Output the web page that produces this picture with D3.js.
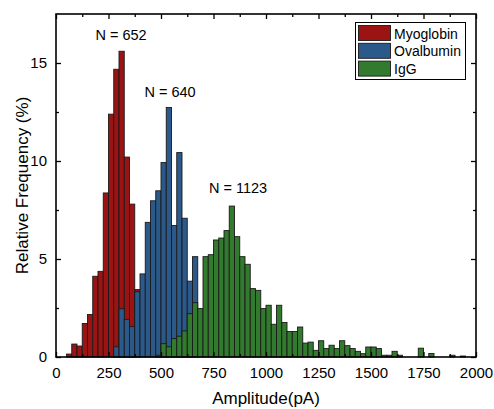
<!DOCTYPE html>
<html>
<head>
<meta charset="utf-8">
<script src="https://cdn.jsdelivr.net/npm/d3@7"></script>
<style>
  body { margin: 0; background: #fff; }
  svg { display: block; font-family: "Liberation Sans", Arial, sans-serif; }
</style>
</head>
<body>
<script>
// histogram bins are 25 pA wide, values are relative frequency (%)
const binWidth = 25
const seriesNames = ["Myoglobin", "Ovalbumin", "IgG"]
const seriesLabels = ["N = 652", "N = 640", "N = 1123"]

const myoglobinStart = 50
const myoglobin = [0.15, 0.66, 0.56, 1.71, 2.17, 4.12, 4.37, 8.37, 12.39, 14.68, 15.6, 10.2, 7.8, 3.44]

const ovalbuminStart = 275
const ovalbumin = [0.52, 2.46, 1.92, 1.55, 3.33, 4.24, 6.87, 7.97, 8.48, 9.92, 12.73, 6.71, 10.43, 7.08, 3.87, 5.12]

const iggStart = 475
const igg = [0.09, 0.68, 0.52, 0.94, 1.06, 1.33, 2.21, 2.77, 2.47, 5.12,
    5.22, 5.97, 6.07, 6.45, 7.7, 6.14, 5.12, 4.73, 3.49, 3.4,
    2.47, 2.64, 1.67, 2.64, 1.76, 1.3, 1.3, 1.53, 0.71, 0.76,
    0.34, 0.83, 0.43, 0.6, 0.43, 0.83, 0.58, 0.43, 0.29, 0.17,
    0.51, 0.51, 0.43, 0.09, 0.09, 0.29, 0.09, 0, 0, 0,
    0.45, 0, 0.18, 0, 0, 0, 0.09, 0, 0.05, 0, 0]

const xTicks = [0, 250, 500, 750, 1000, 1250, 1500, 1750, 2000]
const xMinorTicks = [125, 375, 625, 875, 1125, 1375, 1625, 1875]
const yTicks = [0, 5, 10, 15]
const yMinorTicks = [2.5, 7.5, 12.5]

const colors = ["#9c1313", "#2b5a8a", "#327a2e"]

function toBins(start, values) {
    return values.map((v, i) => ({ x0: start + i * binWidth, x1: start + (i + 1) * binWidth, value: v }))
}

function drawChart() {
    const width = 494
    const height = 409
    const margin = { top: 14, right: 18, bottom: 52, left: 56 }

    const svg = d3.select("body").append("svg")
        .attr("width", width)
        .attr("height", height)

    const x = d3.scaleLinear().domain([0, 2000]).range([margin.left, width - margin.right])
    const y = d3.scaleLinear().domain([0, 17.5]).range([height - margin.bottom, margin.top])

    const series = [
        toBins(myoglobinStart, myoglobin),
        toBins(ovalbuminStart, ovalbumin),
        toBins(iggStart, igg),
    ]

    // later series sit on top of earlier ones
    series.forEach((bins, i) => {
        svg.append("g")
            .attr("fill", colors[i])
            .attr("stroke", "#1a1a1a")
            .attr("stroke-width", 0.9)
            .selectAll("rect")
            .data(bins)
            .join("rect")
            .attr("x", d => x(d.x0))
            .attr("width", d => x(d.x1) - x(d.x0))
            .attr("y", d => y(d.value))
            .attr("height", d => y(0) - y(d.value))
    })

    // frame with inward ticks on all four sides
    const tickFont = "15px"
    svg.append("g")
        .attr("transform", `translate(0,${y(0)})`)
        .call(d3.axisBottom(x).tickValues(xTicks).tickFormat(d3.format("d")).tickSizeInner(-5).tickSizeOuter(0).tickPadding(10))
        .call(g => g.selectAll("text").attr("font-size", tickFont).attr("fill", "#000"))
    svg.append("g")
        .attr("transform", `translate(0,${y(0)})`)
        .call(d3.axisBottom(x).tickValues(xMinorTicks).tickSizeInner(-3).tickSizeOuter(0).tickFormat(""))
    svg.append("g")
        .attr("transform", `translate(0,${margin.top})`)
        .call(d3.axisTop(x).tickValues(xTicks).tickSizeInner(-5).tickSizeOuter(0).tickFormat(""))
    svg.append("g")
        .attr("transform", `translate(0,${margin.top})`)
        .call(d3.axisTop(x).tickValues(xMinorTicks).tickSizeInner(-3).tickSizeOuter(0).tickFormat(""))

    svg.append("g")
        .attr("transform", `translate(${x(0)},0)`)
        .call(d3.axisLeft(y).tickValues(yTicks).tickSizeInner(-5).tickSizeOuter(0).tickPadding(9))
        .call(g => g.selectAll("text").attr("font-size", tickFont).attr("fill", "#000"))
    svg.append("g")
        .attr("transform", `translate(${x(0)},0)`)
        .call(d3.axisLeft(y).tickValues(yMinorTicks).tickSizeInner(-3).tickSizeOuter(0).tickFormat(""))
    svg.append("g")
        .attr("transform", `translate(${x(2000)},0)`)
        .call(d3.axisRight(y).tickValues(yTicks).tickSizeInner(-5).tickSizeOuter(0).tickFormat(""))
    svg.append("g")
        .attr("transform", `translate(${x(2000)},0)`)
        .call(d3.axisRight(y).tickValues(yMinorTicks).tickSizeInner(-3).tickSizeOuter(0).tickFormat(""))

    svg.selectAll(".domain").remove()
    svg.selectAll(".tick line").attr("stroke", "#000").attr("stroke-width", 1.3)

    svg.append("rect")
        .attr("x", x(0))
        .attr("y", y(17.5))
        .attr("width", x(2000) - x(0))
        .attr("height", y(0) - y(17.5))
        .attr("fill", "none")
        .attr("stroke", "#000")
        .attr("stroke-width", 1.6)

    // axis titles
    svg.append("text")
        .attr("x", (x(0) + x(2000)) / 2)
        .attr("y", 404)
        .attr("text-anchor", "middle")
        .attr("font-size", "17px")
        .text("Amplitude(pA)")
    svg.append("text")
        .attr("transform", `translate(28,${(y(0) + y(17.5)) / 2}) rotate(-90)`)
        .attr("text-anchor", "middle")
        .attr("font-size", "17px")
        .text("Relative Frequency (%)")

    // N labels above each peak
    const labelPos = [[121, 40], [170, 97], [238, 193]]
    seriesLabels.forEach((t, i) => {
        svg.append("text")
            .attr("x", labelPos[i][0])
            .attr("y", labelPos[i][1])
            .attr("text-anchor", "middle")
            .attr("font-size", "14.5px")
            .text(t)
    })

    // legend
    const legend = svg.append("g")
    legend.append("rect")
        .attr("x", 355.5).attr("y", 22.5)
        .attr("width", 110).attr("height", 57)
        .attr("fill", "#fff")
        .attr("stroke", "#000")
        .attr("stroke-width", 1)
    seriesNames.forEach((name, i) => {
        const top = 25.5 + i * 17.8
        legend.append("rect")
            .attr("x", 358.5).attr("y", top)
            .attr("width", 32).attr("height", 15)
            .attr("fill", colors[i])
            .attr("stroke", "#1a1a1a")
            .attr("stroke-width", 0.9)
        legend.append("text")
            .attr("x", 394).attr("y", top + 13)
            .attr("font-size", "14px")
            .text(name)
    })
}

drawChart()
</script>
</body>
</html>
